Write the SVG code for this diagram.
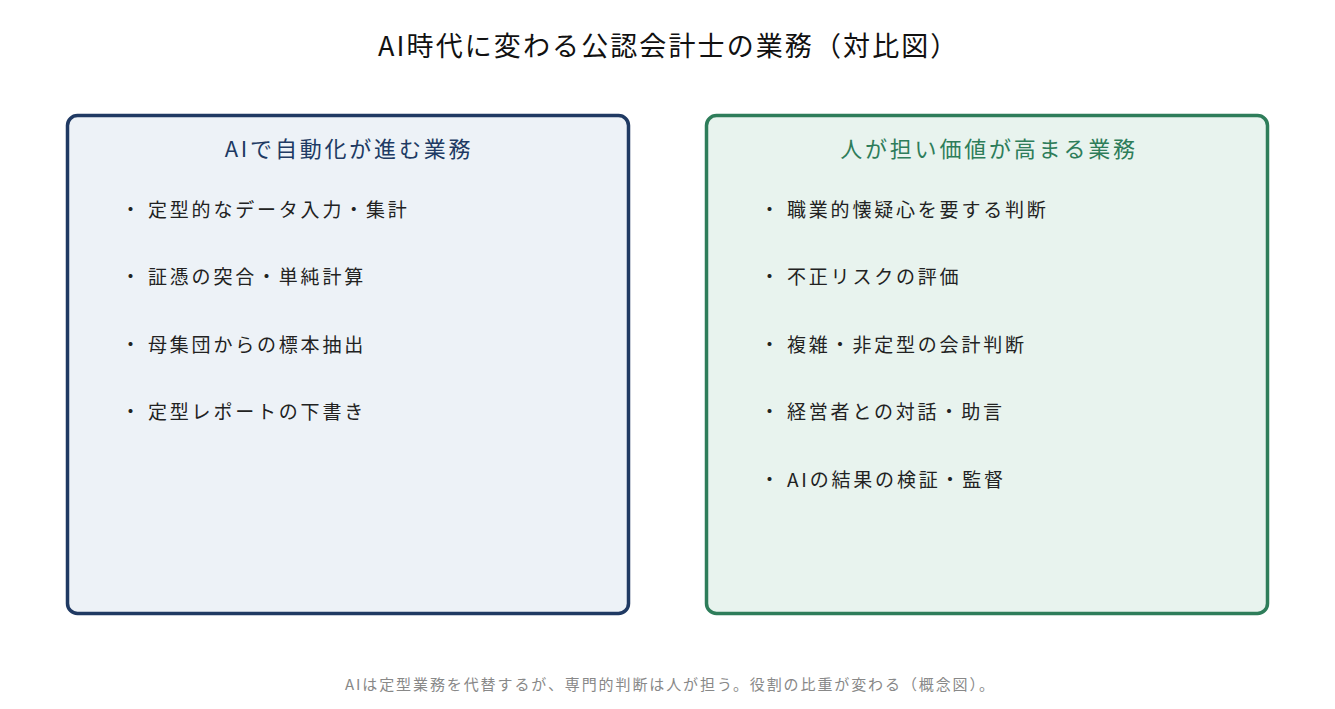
<svg xmlns="http://www.w3.org/2000/svg" width="1335" height="709" viewBox="0 0 1335 709">
<style>
text { font-family: "Noto Sans CJK JP", "Noto Sans", sans-serif; }
.title { font-size: 27px; fill: #111; letter-spacing: 2.1px; }
.panel-left { fill: #edf2f7; stroke: #203a63; stroke-width: 3.5; }
.panel-right { fill: #e8f3ee; stroke: #2e7d5a; stroke-width: 3.5; }
.ptitle { font-size: 22px; letter-spacing: 2.8px; text-anchor: middle; }
.lt { fill: #203a63; }
.rt { fill: #2e7d5a; }
.item { font-size: 19px; fill: #222; letter-spacing: 2.8px; }
.foot { font-size: 15px; fill: #888; letter-spacing: 1.9px; }
</style>
<rect width="1335" height="709" fill="#ffffff"/>
<text class="title" x="378" y="56">AI時代に変わる公認会計士の業務（対比図）</text>
<g id="left-panel">
  <rect class="panel-left" x="67.5" y="115.5" width="561" height="498" rx="10"/>
  <text class="ptitle lt" x="349" y="157">AIで自動化が進む業務</text>
  <text class="item" y="217"><tspan x="121">・</tspan><tspan x="148">定型的なデータ入力・集計</tspan></text>
  <text class="item" y="284"><tspan x="121">・</tspan><tspan x="148">証憑の突合・単純計算</tspan></text>
  <text class="item" y="352"><tspan x="121">・</tspan><tspan x="148">母集団からの標本抽出</tspan></text>
  <text class="item" y="419"><tspan x="121">・</tspan><tspan x="148">定型レポートの下書き</tspan></text>
</g>
<g id="right-panel">
  <rect class="panel-right" x="706.5" y="115.5" width="561" height="498" rx="10"/>
  <text class="ptitle rt" x="989" y="157">人が担い価値が高まる業務</text>
  <text class="item" y="217"><tspan x="760">・</tspan><tspan x="787">職業的懐疑心を要する判断</tspan></text>
  <text class="item" y="284"><tspan x="760">・</tspan><tspan x="787">不正リスクの評価</tspan></text>
  <text class="item" y="352"><tspan x="760">・</tspan><tspan x="787">複雑・非定型の会計判断</tspan></text>
  <text class="item" y="419"><tspan x="760">・</tspan><tspan x="787">経営者との対話・助言</tspan></text>
  <text class="item" y="487"><tspan x="760">・</tspan><tspan x="787">AIの結果の検証・監督</tspan></text>
</g>
<g id="connectors"></g>
<text class="foot" x="345" y="690">AIは定型業務を代替するが、専門的判断は人が担う。役割の比重が変わる（概念図）。</text>
</svg>
